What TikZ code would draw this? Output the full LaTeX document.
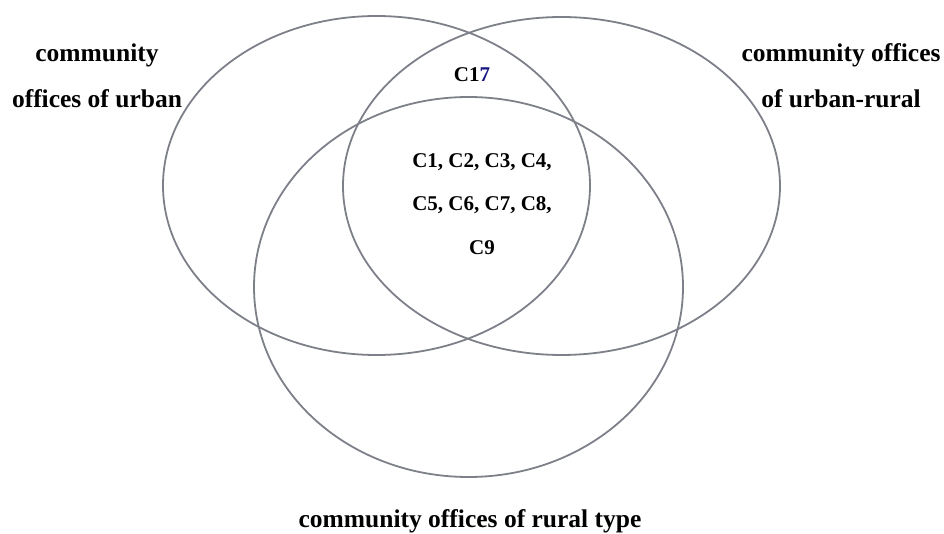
\documentclass[tikz,border=0pt]{standalone}
\usepackage{fontspec}
\setmainfont{Liberation Serif}
\usepackage{color}

\definecolor{ringgray}{RGB}{125,128,137}
\definecolor{numblue}{RGB}{20,20,130}

\begin{document}
\begin{tikzpicture}[x=1pt,y=-1pt,
        setlabel/.style={align=center,font=\bfseries\fontsize{25.5}{46}\selectfont},
        members/.style={align=center,font=\bfseries\fontsize{21}{43.5}\selectfont}]
        \useasboundingbox (0,0) rectangle (944,534);
        \def\U{(376.5pt,-185.5pt) ellipse (213.5pt and 169.5pt)}
        \def\M{(561.5pt,-186pt) ellipse (218.5pt and 169pt)}
        \def\R{(468.5pt,-287pt) ellipse (214.5pt and 190pt)}

        \draw[ringgray,line width=1.8pt] \U;
        \draw[ringgray,line width=1.8pt] \M;
        \draw[ringgray,line width=1.8pt] \R;

        \node[setlabel] (urban) at (97,76) {community\\offices of urban};
        \node[setlabel] (mixed) at (841,76) {community offices\\of urban-rural};
        \node[setlabel] (rural) at (470,521) {community offices of rural type};

        \node[members] (only17) at (472,75) {C1\textcolor{numblue}{7}};
        \node[members] (common) at (482,204) {C1, C2, C3, C4,\\C5, C6, C7, C8,\\C9};
    \end{tikzpicture}
\end{document}
